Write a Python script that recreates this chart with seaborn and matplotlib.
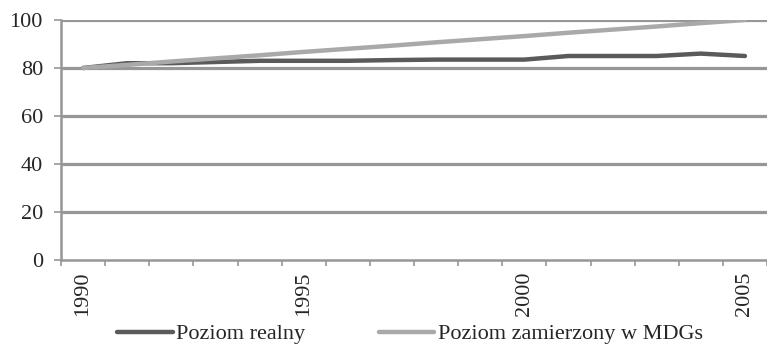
import matplotlib
matplotlib.use("Agg")
import matplotlib.pyplot as plt
import seaborn as sns
import pandas as pd
from matplotlib.ticker import FixedLocator

years = list(range(1990, 2006))
poziom_realny = [80, 82, 82, 82.5, 83, 83, 83, 83.3, 83.5, 83.5, 83.5, 85, 85, 85, 86, 85]
poziom_zamierzony = [80, 81.3, 82.7, 84, 85.3, 86.7, 88, 89.3, 90.7, 92, 93.3, 94.7, 96, 97.3, 98.7, 100]
series_names = ["Poziom realny", "Poziom zamierzony w MDGs"]
x_labels = [1990, 1995, 2000, 2005]
y_ticks = [0, 20, 40, 60, 80, 100]

df = pd.DataFrame({
    "year": years * 2,
    "value": poziom_realny + poziom_zamierzony,
    "series": [series_names[0]] * len(years) + [series_names[1]] * len(years),
})

sns.set_style("white")
plt.rcParams["font.family"] = ["Liberation Serif", "DejaVu Serif"]

FS = 16
fig = plt.figure(figsize=(7.67, 3.48), dpi=100)
ax = fig.add_axes([61 / 767, 1 - 260 / 348, 706 / 767, 240 / 348])

grid_color = "#979797"
for yv in y_ticks[1:]:
    ax.axhline(yv, color=grid_color, lw=2.3, zorder=0)

sns.lineplot(data=df, x="year", y="value", hue="series",
             palette={series_names[0]: "#5a5a5a", series_names[1]: "#a9a9a9"},
             linewidth=3.2, ax=ax, legend=True, zorder=3,
             solid_capstyle="round")

ax.set_xlim(1989.5, 2005.5)
ax.set_ylim(0, 100)
ax.set_yticks(y_ticks)
ax.set_yticklabels([str(v) for v in y_ticks], fontsize=FS)
ax.set_xticks(x_labels)
ax.set_xticklabels([str(v) for v in x_labels], rotation=90, fontsize=FS)
ax.xaxis.set_minor_locator(FixedLocator([y - 0.5 for y in years] + [2005.5]))
ax.tick_params(axis="x", which="major", length=0, pad=8)
ax.tick_params(axis="x", which="minor", length=4.5, width=1.2, color=grid_color, direction="out", bottom=True)
ax.tick_params(axis="y", which="major", length=5, width=1.2, color=grid_color, direction="out", left=True, pad=8)
ax.set_xlabel("")
ax.set_ylabel("")

for s in ["top", "right"]:
    ax.spines[s].set_visible(False)
ax.spines["left"].set_color(grid_color)
ax.spines["left"].set_linewidth(1.8)
ax.spines["bottom"].set_color(grid_color)
ax.spines["bottom"].set_linewidth(1.8)

handles, labels = ax.get_legend_handles_labels()
ax.legend(handles, labels, loc="center", bbox_to_anchor=(410 / 767, 1 - 334 / 348),
          bbox_transform=fig.transFigure, ncol=2, frameon=False, fontsize=FS,
          handlelength=2.5, handletextpad=0.15, columnspacing=3.3)

fig.savefig("out.png", dpi=100)
